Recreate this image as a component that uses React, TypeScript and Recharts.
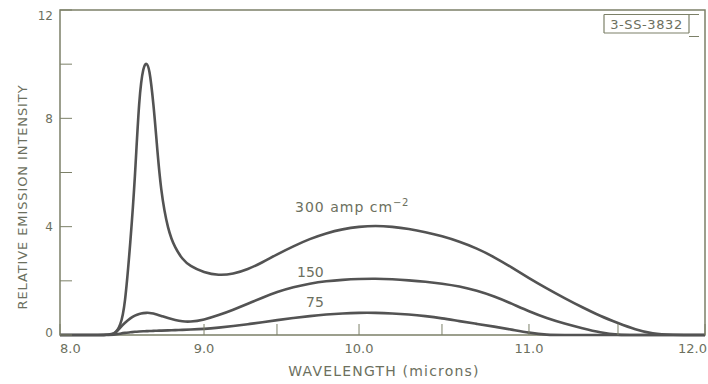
import React from 'react';
import { LineChart, Line, XAxis, YAxis, ReferenceArea } from 'recharts';

// wavelength in microns
const wavelength = [
  8.0, 8.3, 8.38, 8.42, 8.45, 8.49, 8.52, 8.55, 8.58, 8.6, 8.62, 8.65, 8.67, 8.7, 8.75, 8.8, 8.85, 8.9,
  9.0, 9.1, 9.2, 9.3, 9.4, 9.5, 9.6, 9.7, 9.8, 9.9, 10.0, 10.1, 10.2, 10.3, 10.4, 10.5, 10.6, 10.7,
  10.8, 10.9, 11.0, 11.1, 11.2, 11.3, 11.4, 11.5, 11.6, 11.7, 11.8, 12.0,
];

// 300 amp cm^-2
const j300 = [
  0, 0, 0, 0.35, 1.0, 3.5, 5.7, 8.9, 9.95, 10.05, 9.9, 8.5, 7.2, 5.3, 3.85, 3.2, 2.8, 2.55,
  2.3, 2.2, 2.25, 2.42, 2.68, 2.98, 3.28, 3.55, 3.76, 3.91, 4.0, 4.04, 4.0, 3.92, 3.8, 3.65, 3.45, 3.2,
  2.88, 2.5, 2.1, 1.72, 1.36, 1.02, 0.7, 0.44, 0.2, 0.04, 0, 0,
];

// 150 amp cm^-2
const j150 = [
  0, 0, 0, 0.3, 0.45, 0.63, 0.72, 0.78, 0.81, 0.82, 0.82, 0.79, 0.76, 0.71, 0.62, 0.55, 0.5, 0.48,
  0.56, 0.73, 0.93, 1.15, 1.38, 1.59, 1.77, 1.9, 1.99, 2.04, 2.07, 2.08, 2.06, 2.02, 1.97, 1.9, 1.8, 1.64,
  1.43, 1.16, 0.87, 0.62, 0.42, 0.25, 0.09, 0, 0, 0, 0, 0,
];

// 75 amp cm^-2
const j75 = [
  0, 0, 0, 0.05, 0.08, 0.1, 0.12, 0.13, 0.14, 0.14, 0.15, 0.15, 0.16, 0.16, 0.17, 0.18, 0.19, 0.2,
  0.22, 0.27, 0.33, 0.4, 0.47, 0.55, 0.63, 0.7, 0.76, 0.8, 0.82, 0.82, 0.8, 0.76, 0.7, 0.62, 0.51, 0.41,
  0.31, 0.2, 0.08, 0, 0, 0, 0, 0, 0, 0, 0, 0,
];

const xTicks = [8, 9, 9.5, 10, 10.5, 11, 11.5, 12];
const yTicks = [0, 2, 4, 6, 8, 10, 12];
const yTickLabels = ['0', '', '4', '', '8', '', '12'];

// the printed wavelength axis is not evenly spaced; where each tick sits along it
const X_KNOTS = [8, 9, 9.5, 10, 10.5, 11, 11.5, 12];
const X_KNOT_FRAC = [0, 0.2233, 0.3364, 0.4636, 0.5922, 0.7271, 0.8651, 1];

const INK = '#535353';
const FRAME = '#7c8068';
const TEXT = '#6c705e';
const FONT = '"DejaVu Sans", sans-serif';

function frac(v: number) {
  const k = X_KNOTS;
  const f = X_KNOT_FRAC;
  for (let i = 1; i < k.length; i++) {
    if (v <= k[i] || i === k.length - 1) {
      const t = (v - k[i - 1]) / (k[i] - k[i - 1]);
      return f[i - 1] + t * (f[i] - f[i - 1]);
    }
  }
  return 1;
}

function makeScale(dom: any[] = [8, 12], rng: number[] = [0, 1]): any {
  const s: any = (v: number) => rng[0] + frac(Number(v)) * (rng[1] - rng[0]);
  s.domain = (d?: any[]) => (d === undefined ? dom.slice() : ((dom = d.slice()), s));
  s.range = (r?: number[]) => (r === undefined ? rng.slice() : ((rng = r.slice()), s));
  s.copy = () => makeScale(dom.slice(), rng.slice());
  s.ticks = () => xTicks;
  s.tickFormat = () => (v: number) => String(v);
  return s;
}

const warpScale = makeScale();

const data = wavelength.map((w, i) => ({ w, a: j300[i], b: j150[i], c: j75[i] }));

function XTick(props: any) {
  const { x, y, payload } = props;
  const v = Number(payload.value);
  const major = Number.isInteger(v);
  let anchor: 'start' | 'middle' | 'end' = 'middle';
  let tx = x;
  if (v === 8) anchor = 'start';
  if (v === 12) {
    anchor = 'end';
    tx = x + 2;
  }
  return (
    <g>
      <line x1={x} x2={x} y1={y} y2={y - 11} stroke={FRAME} strokeWidth={1} />
      {major && (
        <text x={tx} y={y + 18} textAnchor={anchor} fill={TEXT} fontSize={13} fontFamily={FONT}>
          {v.toFixed(1)}
        </text>
      )}
    </g>
  );
}

function YTick(props: any) {
  const { x, y, payload } = props;
  const v = Number(payload.value);
  const label = yTickLabels[yTicks.indexOf(v)] || '';
  let dy = 4.5;
  if (v === 12) dy = 9.5;
  if (v === 0) dy = 2;
  return (
    <g>
      <line x1={x} x2={x + 12} y1={y} y2={y} stroke={FRAME} strokeWidth={1} />
      {label && (
        <text x={x - 7} y={y + dy} textAnchor="end" fill={TEXT} fontSize={12} fontFamily={FONT}>
          {label}
        </text>
      )}
    </g>
  );
}

export default function App() {
  return (
    <div style={{ position: 'absolute', left: 0, top: 0, width: 708, height: 384, background: '#fff' }}>
      <LineChart width={708} height={384} data={data} margin={{ top: 10, right: 3, bottom: 0, left: 0 }}>
        <XAxis
          dataKey="w"
          type="number"
          domain={[8, 12]}
          scale={warpScale}
          ticks={xTicks}
          interval={0}
          height={49}
          axisLine={false}
          tickLine={false}
          tickSize={0}
          tickMargin={0}
          tick={<XTick />}
        />
        <YAxis
          type="number"
          domain={[0, 12]}
          ticks={yTicks}
          interval={0}
          width={60}
          axisLine={false}
          tickLine={false}
          tickSize={0}
          tickMargin={0}
          tick={<YTick />}
        />
        <ReferenceArea x1={8} x2={12} y1={0} y2={12} fill="none" fillOpacity={0} stroke={FRAME} strokeWidth={1.5} />
        <Line dataKey="a" type="basis" stroke={INK} strokeWidth={2.6} dot={false} isAnimationActive={false} />
        <Line dataKey="b" type="basis" stroke={INK} strokeWidth={2.6} dot={false} isAnimationActive={false} />
        <Line dataKey="c" type="basis" stroke={INK} strokeWidth={2.6} dot={false} isAnimationActive={false} />
      </LineChart>
      <svg width={708} height={384} style={{ position: 'absolute', left: 0, top: 0, pointerEvents: 'none' }}>
        <text
          transform="translate(27,197) rotate(-90)"
          textAnchor="middle"
          fill={TEXT}
          fontSize={13}
          letterSpacing={0.9}
          fontFamily={FONT}
        >
          RELATIVE EMISSION INTENSITY
        </text>
        <text x={384} y={376} textAnchor="middle" fill={TEXT} fontSize={14} letterSpacing={1.2} fontFamily={FONT}>
          WAVELENGTH (microns)
        </text>
        <text x={295} y={212} fill={TEXT} fontSize={14} letterSpacing={1} fontFamily={FONT}>
          300 amp cm
          <tspan fontSize={10} dy={-6} letterSpacing={0.5}>
            −2
          </tspan>
        </text>
        <text x={297} y={277} fill={TEXT} fontSize={14} fontFamily={FONT}>
          150
        </text>
        <text x={306} y={307} fill={TEXT} fontSize={14} fontFamily={FONT}>
          75
        </text>
        <line x1={604} x2={699} y1={14.5} y2={14.5} stroke={FRAME} strokeWidth={1.2} />
        <line x1={604} x2={604} y1={14.5} y2={33} stroke={FRAME} strokeWidth={1.2} />
        <line x1={604} x2={689} y1={33} y2={33} stroke={FRAME} strokeWidth={1.2} />
        <line x1={689} x2={689} y1={14.5} y2={33} stroke={FRAME} strokeWidth={1.2} />
        <line x1={689} x2={699} y1={36.5} y2={36.5} stroke={FRAME} strokeWidth={1} />
        <text x={646.5} y={29} textAnchor="middle" fill={TEXT} fontSize={13} letterSpacing={0.6} fontFamily={FONT}>
          3-SS-3832
        </text>
      </svg>
    </div>
  );
}
